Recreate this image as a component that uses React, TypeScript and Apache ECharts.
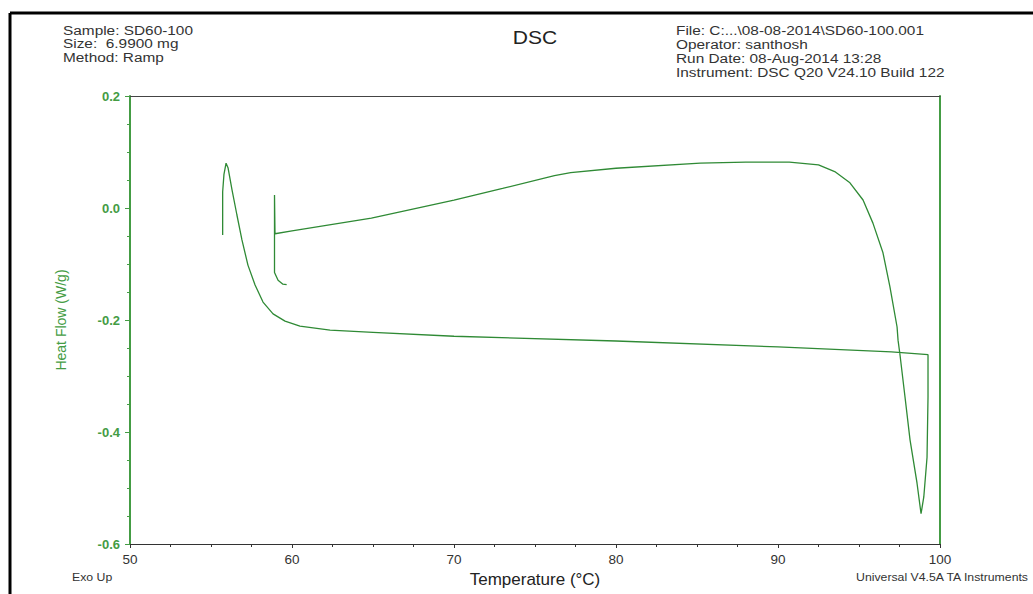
import React, { useEffect, useRef } from "react";
import * as echarts from "echarts";

const temperature: number[] = [
  55.72, 55.72, 55.8, 55.93, 56.05, 56.3, 56.6, 56.91, 57.28, 57.72, 58.21, 58.83, 59.57, 60.49,
  62.35, 65.0, 70.0, 80.0, 90.0, 97.0, 99.26,
  99.26, 99.2, 99.0, 98.83,
  98.58, 98.15, 97.84, 97.53, 97.41, 97.35, 96.91, 96.48, 95.86, 95.25, 94.44, 93.5, 92.5, 90.7,
  88.0, 85.2, 80.0, 77.2, 76.2, 73.0, 70.0, 64.9, 60.0, 58.95,
  58.92, 58.92, 59.14, 59.44, 59.67,
];
const heatFlow: number[] = [
  -0.048, 0.029, 0.06, 0.08, 0.072, 0.032, -0.0125, -0.057, -0.102, -0.1375, -0.168, -0.189,
  -0.202, -0.211, -0.218, -0.222, -0.229, -0.2375, -0.248, -0.257, -0.262,
  -0.3375, -0.445, -0.516, -0.546,
  -0.491, -0.414, -0.3375, -0.262, -0.236, -0.2125, -0.141, -0.08, -0.027, 0.0143, 0.045, 0.065,
  0.077, 0.082, 0.082, 0.08, 0.071, 0.063, 0.058, 0.035, 0.014, -0.018, -0.041, -0.046,
  0.023, -0.115, -0.129, -0.136, -0.137,
];
const xTicks = { min: 50, max: 100, interval: 10 };
const yTicks = { min: -0.6, max: 0.2, interval: 0.2 };
const leftInfo = ["Sample: SD60-100", "Size:  6.9900 mg", "Method: Ramp"];
const rightInfo = [
  "File: C:...\\08-08-2014\\SD60-100.001",
  "Operator: santhosh",
  "Run Date: 08-Aug-2014 13:28",
  "Instrument: DSC Q20 V24.10 Build 122",
];

const GREEN = "#449c44";
const LINE = "#2f8a35";
const FONT = "Liberation Sans, Arial, sans-serif";

export default function App() {
  const ref = useRef<HTMLDivElement>(null);
  useEffect(() => {
    if (!ref.current) return;
    const chart = echarts.init(ref.current, undefined, { renderer: "svg" });
    const data = temperature.map((t, i) => [t, heatFlow[i]]);
    const txt = (
      s: string,
      x: number,
      y: number,
      size: number,
      scaleX: number,
      align: string = "left",
      fill: string = "#333"
    ) => ({
      type: "text",
      x,
      y,
      scaleX,
      style: {
        text: s,
        fill,
        font: `${size}px ${FONT}`,
        textAlign: align,
        textVerticalAlign: "middle",
      },
    });
    chart.setOption({
      animation: false,
      backgroundColor: "#fff",
      grid: { left: 130, right: 93, top: 96, bottom: 50 },
      xAxis: [
        {
          type: "value",
          min: xTicks.min,
          max: xTicks.max,
          interval: xTicks.interval,
          name: "Temperature (°C)",
          nameLocation: "middle",
          nameGap: 25,
          nameTextStyle: { color: "#222", fontSize: 17, fontFamily: FONT },
          axisLine: { show: true, onZero: false, lineStyle: { color: "#333", width: 1.2 } },
          axisTick: { show: true, length: 4, lineStyle: { color: "#333" } },
          minorTick: { show: true, splitNumber: 4, length: 3, lineStyle: { color: "#333" } },
          axisLabel: { color: "#333", fontSize: 13.5, fontFamily: FONT, margin: 8 },
          splitLine: { show: false },
        },
        {
          type: "value",
          position: "top",
          min: xTicks.min,
          max: xTicks.max,
          axisLine: { show: true, onZero: false, lineStyle: { color: "#444", width: 1 } },
          axisTick: { show: false },
          axisLabel: { show: false },
          splitLine: { show: false },
        },
      ],
      yAxis: [
        {
          type: "value",
          min: yTicks.min,
          max: yTicks.max,
          interval: yTicks.interval,
          name: "Heat Flow (W/g)",
          nameLocation: "middle",
          nameGap: 62,
          nameTextStyle: { color: GREEN, fontSize: 14, fontFamily: FONT },
          axisLine: { show: true, onZero: false, lineStyle: { color: GREEN, width: 2 } },
          axisTick: { show: true, length: 5, lineStyle: { color: GREEN } },
          minorTick: { show: true, splitNumber: 4, length: 3, lineStyle: { color: GREEN } },
          axisLabel: {
            color: GREEN,
            fontSize: 13,
            fontWeight: "bold",
            fontFamily: FONT,
            margin: 10,
            formatter: (v: number) => v.toFixed(1),
          },
          splitLine: { show: false },
        },
        {
          type: "value",
          position: "right",
          min: yTicks.min,
          max: yTicks.max,
          axisLine: { show: true, onZero: false, lineStyle: { color: GREEN, width: 2 } },
          axisTick: { show: false },
          axisLabel: { show: false },
          splitLine: { show: false },
        },
      ],
      series: [
        {
          type: "line",
          xAxisIndex: 0,
          yAxisIndex: 0,
          data,
          showSymbol: false,
          lineStyle: { color: LINE, width: 1.3 },
        },
      ],
      graphic: [
        { type: "line", shape: { x1: 10, y1: 13, x2: 1033, y2: 13 }, style: { stroke: "#000", lineWidth: 3 } },
        { type: "line", shape: { x1: 10, y1: 13, x2: 10, y2: 594 }, style: { stroke: "#000", lineWidth: 3 } },
        ...leftInfo.map((s, i) => txt(s, 63, 30 + i * 13.5, 13.5, 1.14)),
        ...rightInfo.map((s, i) => txt(s, 676, 30 + i * 14, 13.5, 1.14)),
        txt("DSC", 535, 38, 18, 1.17, "center", "#222"),
        txt("Exo Up", 72, 577, 10.5, 1.17),
        txt("Universal V4.5A TA Instruments", 1028, 577, 10.5, 1.17, "right"),
      ],
    });
    return () => chart.dispose();
  }, []);
  return (
    <div
      ref={ref}
      style={{ position: "fixed", left: 0, top: 0, width: 1033, height: 594, background: "#fff" }}
    />
  );
}
